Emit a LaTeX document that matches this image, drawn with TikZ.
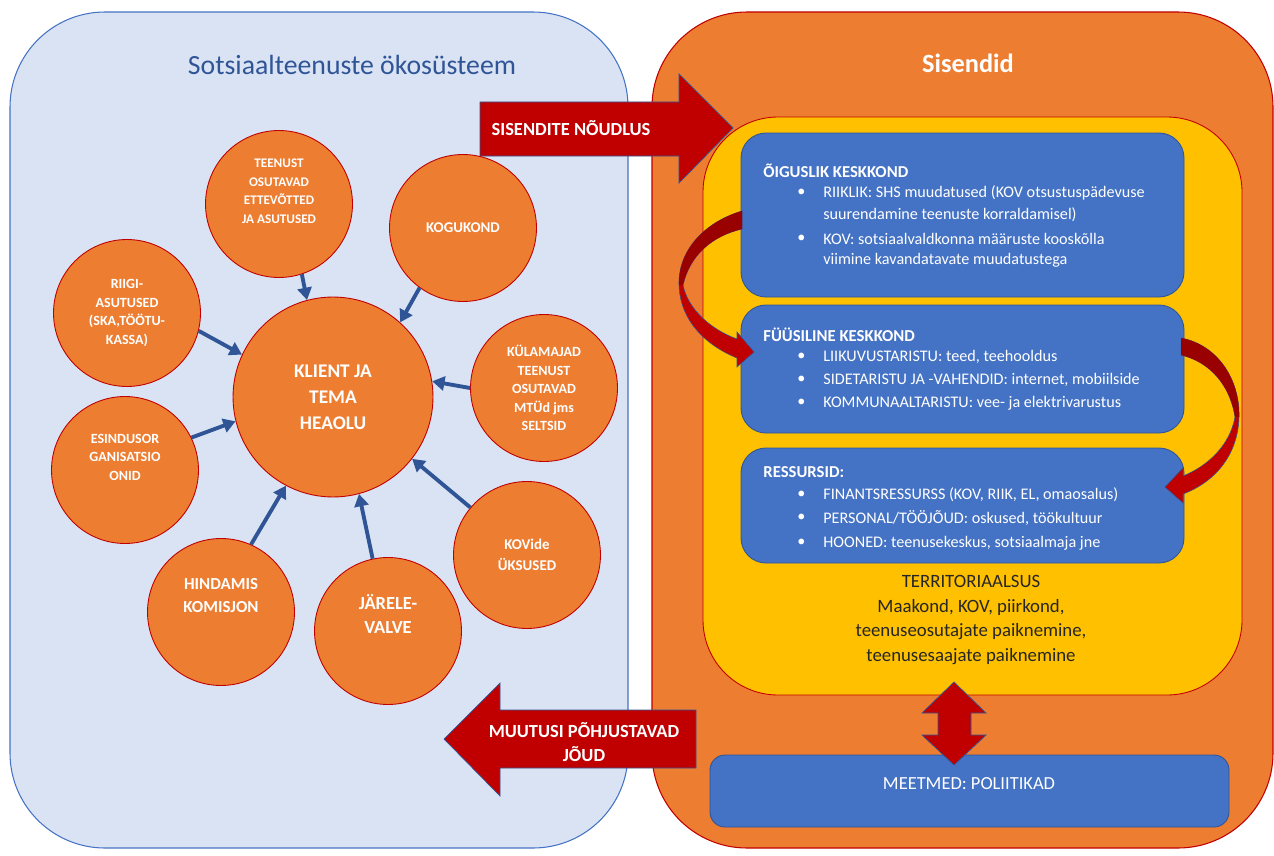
\documentclass[tikz,border=0pt]{standalone}
\usepackage{fontspec}
\setmainfont{Carlito}
\usetikzlibrary{arrows.meta}
\definecolor{paneblue}{HTML}{DAE3F3}
\definecolor{edgeblue}{HTML}{4472C4}
\definecolor{darkblue}{HTML}{2F5597}
\definecolor{orangefill}{HTML}{ED7D31}
\definecolor{ringred}{HTML}{C00000}
\definecolor{yellowfill}{HTML}{FFC000}
\definecolor{arrowred}{HTML}{C00000}
\definecolor{bodyred}{HTML}{990000}
\tikzset{
  sat/.style={circle,fill=orangefill,draw=ringred,line width=0.5pt,minimum size=2.94cm,inner sep=0pt,
    text=white,align=center,font=\bfseries\fontsize{8}{10.5}\selectfont},
  core/.style={sat,minimum size=4cm,font=\bfseries\fontsize{11}{14.7}\selectfont},
  feed/.style={draw=darkblue,line width=2.2pt,-{Triangle[width=8pt,length=7pt]}},
  boxhead/.style={anchor=west,inner sep=0pt,text=white,font=\bfseries\fontsize{9.5}{10}\selectfont},
  boxitem/.style={anchor=west,inner sep=0pt,text=white,font=\fontsize{9.2}{10}\selectfont},
  arrowtext/.style={inner sep=0pt,text=white,align=center,font=\bfseries\fontsize{10.5}{13.5}\selectfont},
  curvearrow/.style={fill=arrowred,draw=darkblue,line width=0.3pt},
}
\begin{document}
\begin{tikzpicture}[x=0.02cm,y=-0.02cm]
\useasboundingbox(0,0)rectangle(1274,855);
%panels
\draw[fill=paneblue,draw=edgeblue,line width=0.6pt,rounded corners=1.9cm](10,12)rectangle(628,848);
\draw[fill=orangefill,draw=ringred,line width=0.6pt,rounded corners=1.9cm](652,12)rectangle(1273,848);
\draw[fill=yellowfill,draw=ringred,line width=0.5pt,rounded corners=1.5cm](703,117)rectangle(1242,695);
%blue boxes
\draw[fill=edgeblue,draw=darkblue,line width=0.5pt,rounded corners=0.5cm](741,133)rectangle(1184,297);
\draw[fill=edgeblue,draw=darkblue,line width=0.5pt,rounded corners=0.5cm](741,305)rectangle(1184,433);
\draw[fill=edgeblue,draw=darkblue,line width=0.5pt,rounded corners=0.5cm](741,448)rectangle(1184,563);
\draw[fill=edgeblue,draw=darkblue,line width=0.5pt,rounded corners=0.3cm](710,755)rectangle(1229,827);
%titles
\node[text=darkblue,font=\fontsize{15.8}{18}\selectfont](ecotitle)at(352,65){Sotsiaalteenuste ökosüsteem};
\node[text=white,font=\bfseries\fontsize{15}{18}\selectfont](inputtitle)at(968,63){Sisendid};
%block arrows
\draw[fill=arrowred,draw=darkblue,line width=0.4pt](480,102)--(679,102)--(679,74)--(733,128)--(679,183)--(679,156)--(480,156)--cycle;
\node[arrowtext](demand)at(571,128){SISENDITE NÕUDLUS};
\draw[fill=arrowred,draw=darkblue,line width=0.4pt](696,710)--(500,710)--(500,683)--(444,739)--(500,796)--(500,768)--(696,768)--cycle;
\node[arrowtext](forces)at(584,742){MUUTUSI PÕHJUSTAVAD\\JÕUD};
\draw[fill=arrowred,draw=darkblue,line width=0.4pt](954,682)--(986,713)--(971,713)--(971,735)--(986,735)--(954,765)--(922,735)--(938,735)--(938,713)--(922,713)--cycle;
%curved arrows
\draw[curvearrow](742,211)..controls(705,222)and(678,250)..(679,285)..controls(680,320)and(705,345)..(737,358)
  --(737,367)--(754,352)--(737,332)--(737,339)..controls(712,330)and(688,310)..(683,285)
  ..controls(690,255)and(712,236)..(742,229)--cycle;
\fill[bodyred](742,211)..controls(705,222)and(678,250)..(679,285)--(683,285)..controls(690,255)and(712,236)..(742,229)--cycle;
\draw[curvearrow](1181,338)..controls(1218,345)and(1240,380)..(1239,417)..controls(1238,455)and(1215,482)..(1183,494)
  --(1183,503)--(1165,487)--(1183,468)--(1183,476)..controls(1208,466)and(1230,445)..(1235,417)
  ..controls(1230,385)and(1210,362)..(1181,355)--cycle;
\fill[bodyred](1181,338)..controls(1218,345)and(1240,380)..(1239,417)--(1235,417)..controls(1230,385)and(1210,362)..(1181,355)--cycle;
%box texts
\node[boxhead](legal)at(763,171){ÕIGUSLIK KESKKOND};
\foreach \y/\t in {193/{RIIKLIK: SHS muudatused (KOV otsustuspädevuse},239/{KOV: sotsiaalvaldkonna määruste kooskõlla}}{
\node[boxitem]at(797,\y){\textbullet};
\node[boxitem]at(823,\y){\t};
}
\node[boxitem]at(823,215){suurendamine teenuste korraldamisel)};
\node[boxitem]at(823,260){viimine kavandatavate muudatustega};
\node[boxhead](physical)at(763,335){FÜÜSILINE KESKKOND};
\foreach \y/\t in {357/{LIIKUVUSTARISTU: teed, teehooldus},380/{SIDETARISTU JA -VAHENDID: internet, mobiilside},403/{KOMMUNAALTARISTU: vee- ja elektrivarustus}}{
\node[boxitem]at(797,\y){\textbullet};
\node[boxitem]at(823,\y){\t};
}
\node[boxhead](resources)at(763,472){RESSURSID:};
\foreach \y/\t in {495/{FINANTSRESSURSS (KOV, RIIK, EL, omaosalus)},518/{PERSONAL/TÖÖJÕUD: oskused, töökultuur},543/{HOONED: teenusekeskus, sotsiaalmaja jne}}{
\node[boxitem]at(797,\y){\textbullet};
\node[boxitem]at(823,\y){\t};
}
\node[align=center,text=black!85,font=\fontsize{10.7}{14.2}\selectfont](territory)at(971,620){TERRITORIAALSUS\\Maakond, KOV, piirkond,\\teenuseosutajate paiknemine,\\teenusesaajate paiknemine};
\node[text=white,font=\fontsize{10.5}{12}\selectfont](measures)at(969,784){MEETMED: POLIITIKAD};
%circles
\node[core](klient)at(333,397){KLIENT JA\\TEMA\\HEAOLU};
\node[sat,font=\bfseries\fontsize{7.5}{10.5}\selectfont](teenust)at(279,204){TEENUST\\OSUTAVAD\\ETTEVÕTTED\\JA ASUTUSED\\[4pt]};
\node[sat,font=\bfseries\fontsize{8.5}{10.5}\selectfont](kogukond)at(463,228){KOGUKOND};
\node[sat](riigi)at(127,313){RIIGI-\\ASUTUSED\\(SKA,TÖÖTU-\\KASSA)};
\node[sat](kula)at(544,388){KÜLAMAJAD\\TEENUST\\OSUTAVAD\\MTÜd jms\\SELTSID};
\node[sat](esindus)at(125,470){ESINDUSOR\\GANISATSIO\\ONID\\[4pt]};
\node[sat,font=\bfseries\fontsize{9.6}{13}\selectfont](hindamis)at(221,612){HINDAMIS\\KOMISJON\\[6pt]};
\node[sat,font=\bfseries\fontsize{10.5}{13.5}\selectfont](jarele)at(388,631){JÄRELE-\\VALVE\\[6pt]};
\node[sat,font=\bfseries\fontsize{8.5}{12}\selectfont](kovide)at(527,555){KOVide\\ÜKSUSED};
%feeding arrows
\draw[feed](teenust.-72)--(klient.105);
\draw[feed](kogukond.-126)--(klient.48);
\draw[feed](riigi.-14)--(klient.155);
\draw[feed](esindus.26)--(klient.194);
\draw[feed](kula.180)--(klient.9);
\draw[feed](hindamis.66)--(klient.-118);
\draw[feed](jarele.102)--(klient.-75);
\draw[feed](kovide.140)--(klient.-38);
\end{tikzpicture}
\end{document}
